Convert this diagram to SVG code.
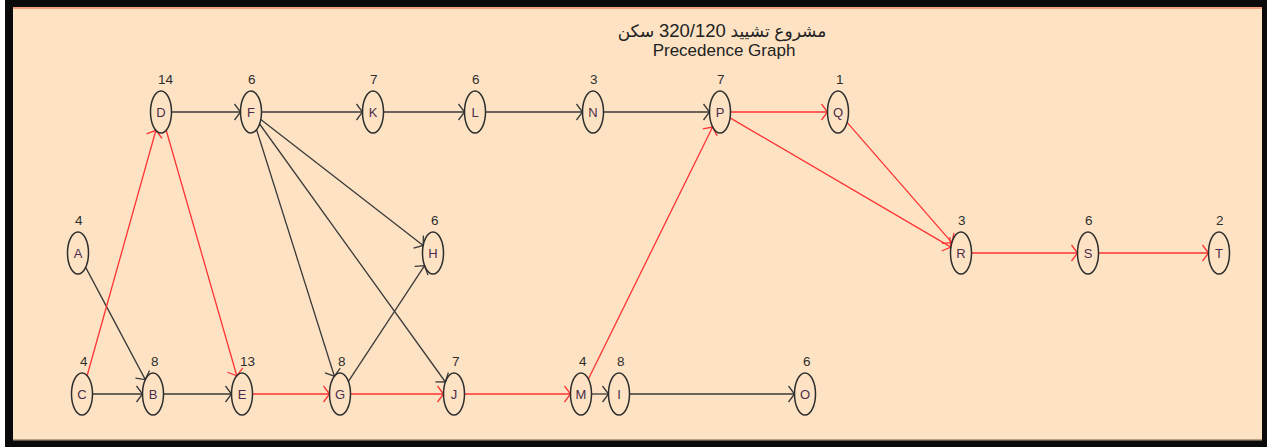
<svg xmlns="http://www.w3.org/2000/svg" width="1267" height="447" viewBox="0 0 1267 447">
  <style>
    .frame { fill: #0a0a0a; }
    .paper { fill: #FDE3C4; }
    .node ellipse { fill: none; stroke: #2e2e2e; stroke-width: 1.5; }
    .node .name { font-family: "Liberation Sans", Arial, sans-serif; font-size: 13px; fill: #4b2d4b; text-anchor: middle; }
    .node .dur { font-family: "Liberation Sans", Arial, sans-serif; font-size: 13.5px; fill: #2e2e2e; }
    .edge { fill: none; stroke-width: 1.3; }
    .blk { stroke: #3a3a3a; }
    .crit { stroke: #FF3333; }
    .title { font-family: "Liberation Sans", "DejaVu Sans", sans-serif; fill: #222; text-anchor: middle; }
  </style>
  <defs>
    <marker id="arrowBlk" markerUnits="userSpaceOnUse" orient="auto" markerWidth="20" markerHeight="20" refX="0" refY="0" viewBox="-10 -10 20 20" overflow="visible">
      <path d="M-6,-8 L0,0 L-6,8" fill="none" stroke="#3a3a3a" stroke-width="1.3"/>
    </marker>
    <marker id="arrowRed" markerUnits="userSpaceOnUse" orient="auto" markerWidth="20" markerHeight="20" refX="0" refY="0" viewBox="-10 -10 20 20" overflow="visible">
      <path d="M-6,-8 L0,0 L-6,8" fill="none" stroke="#FF3333" stroke-width="1.3"/>
    </marker>
  </defs>

  <!-- window frame and canvas -->
  <rect width="1267" height="447" fill="#ffffff"/>
  <rect class="frame" x="5" y="0" width="1262" height="447"/>
  <rect class="paper" x="13" y="8" width="1249" height="432"/>
  <rect x="13" y="7" width="1249" height="2" fill="#F2A27C"/>
  <rect x="13" y="439" width="1249" height="1.5" fill="#B9A283"/>

  <!-- title -->
  <text class="title" x="722" y="37" font-size="17" direction="rtl">مشروع تشييد <tspan font-size="18.5">320/120</tspan> سكن</text>
  <text class="title" x="724" y="56" font-size="17">Precedence Graph</text>

  <!-- connectors -->
  <g id="connectors">
    <g class="edge blk" marker-end="url(#arrowBlk)">
      <line x1="171.5" y1="112" x2="240.5" y2="112"/>
      <line x1="261.5" y1="112" x2="362.5" y2="112"/>
      <line x1="383.5" y1="112" x2="464.5" y2="112"/>
      <line x1="485.5" y1="112" x2="582.5" y2="112"/>
      <line x1="603.5" y1="112" x2="709.5" y2="112"/>
      <line x1="260.8" y1="119.6" x2="423.2" y2="245.4"/>
      <line x1="256.6" y1="129.8" x2="334.4" y2="376.2"/>
      <line x1="259.6" y1="124" x2="445.4" y2="382"/>
      <line x1="348.4" y1="381.3" x2="424.6" y2="265.7"/>
      <line x1="85.7" y1="267.4" x2="145.3" y2="379.6"/>
      <line x1="92.5" y1="394" x2="142.5" y2="394"/>
      <line x1="163.5" y1="394" x2="231.5" y2="394"/>
      <line x1="591.5" y1="394" x2="608.5" y2="394"/>
      <line x1="629.5" y1="394" x2="794.5" y2="394"/>
    </g>
    <g class="edge crit" marker-end="url(#arrowRed)">
      <line x1="87.1" y1="375.7" x2="155.9" y2="130.3"/>
      <line x1="166.2" y1="130.2" x2="236.8" y2="375.8"/>
      <line x1="252.5" y1="394" x2="329.5" y2="394"/>
      <line x1="350.5" y1="394" x2="443.5" y2="394"/>
      <line x1="464.5" y1="394" x2="570.5" y2="394"/>
      <line x1="588.4" y1="379" x2="712.6" y2="127"/>
      <line x1="730.5" y1="112" x2="827.5" y2="112"/>
      <line x1="730.1" y1="117.9" x2="950.9" y2="247.1"/>
      <line x1="847.1" y1="122.4" x2="951.9" y2="242.6"/>
      <line x1="971.5" y1="253" x2="1077.5" y2="253"/>
      <line x1="1098.5" y1="253" x2="1208.5" y2="253"/>
    </g>
  </g>

  <!-- activities: name inside, duration above -->
  <g id="node-D" class="node"><ellipse cx="161" cy="112" rx="10.5" ry="21"/><text class="name" x="161" y="117">D</text><text class="dur" x="158" y="84">14</text></g>
  <g id="node-F" class="node"><ellipse cx="251" cy="112" rx="10.5" ry="21"/><text class="name" x="251" y="117">F</text><text class="dur" x="248" y="84">6</text></g>
  <g id="node-K" class="node"><ellipse cx="373" cy="112" rx="10.5" ry="21"/><text class="name" x="373" y="117">K</text><text class="dur" x="370" y="84">7</text></g>
  <g id="node-L" class="node"><ellipse cx="475" cy="112" rx="10.5" ry="21"/><text class="name" x="475" y="117">L</text><text class="dur" x="472" y="84">6</text></g>
  <g id="node-N" class="node"><ellipse cx="593" cy="112" rx="10.5" ry="21"/><text class="name" x="593" y="117">N</text><text class="dur" x="590" y="84">3</text></g>
  <g id="node-P" class="node"><ellipse cx="720" cy="112" rx="10.5" ry="21"/><text class="name" x="720" y="117">P</text><text class="dur" x="717" y="84">7</text></g>
  <g id="node-Q" class="node"><ellipse cx="838" cy="112" rx="10.5" ry="21"/><text class="name" x="838" y="117">Q</text><text class="dur" x="836" y="84">1</text></g>

  <g id="node-A" class="node"><ellipse cx="78" cy="253" rx="10.5" ry="21"/><text class="name" x="78" y="258">A</text><text class="dur" x="75" y="225">4</text></g>
  <g id="node-H" class="node"><ellipse cx="433" cy="253" rx="10.5" ry="21"/><text class="name" x="433" y="258">H</text><text class="dur" x="431" y="225">6</text></g>
  <g id="node-R" class="node"><ellipse cx="961" cy="253" rx="10.5" ry="21"/><text class="name" x="961" y="258">R</text><text class="dur" x="958" y="225">3</text></g>
  <g id="node-S" class="node"><ellipse cx="1088" cy="253" rx="10.5" ry="21"/><text class="name" x="1088" y="258">S</text><text class="dur" x="1085" y="225">6</text></g>
  <g id="node-T" class="node"><ellipse cx="1219" cy="253" rx="10.5" ry="21"/><text class="name" x="1219" y="258">T</text><text class="dur" x="1216" y="225">2</text></g>

  <g id="node-C" class="node"><ellipse cx="82" cy="394" rx="10.5" ry="21"/><text class="name" x="82" y="399">C</text><text class="dur" x="80" y="366">4</text></g>
  <g id="node-B" class="node"><ellipse cx="153" cy="394" rx="10.5" ry="21"/><text class="name" x="153" y="399">B</text><text class="dur" x="151" y="366">8</text></g>
  <g id="node-E" class="node"><ellipse cx="242" cy="394" rx="10.5" ry="21"/><text class="name" x="242" y="399">E</text><text class="dur" x="240" y="366">13</text></g>
  <g id="node-G" class="node"><ellipse cx="340" cy="394" rx="10.5" ry="21"/><text class="name" x="340" y="399">G</text><text class="dur" x="338" y="366">8</text></g>
  <g id="node-J" class="node"><ellipse cx="454" cy="394" rx="10.5" ry="21"/><text class="name" x="454" y="399">J</text><text class="dur" x="452" y="366">7</text></g>
  <g id="node-M" class="node"><ellipse cx="581" cy="394" rx="10.5" ry="21"/><text class="name" x="581" y="399">M</text><text class="dur" x="579" y="366">4</text></g>
  <g id="node-I" class="node"><ellipse cx="619" cy="394" rx="10.5" ry="21"/><text class="name" x="619" y="399">I</text><text class="dur" x="617" y="366">8</text></g>
  <g id="node-O" class="node"><ellipse cx="805" cy="394" rx="10.5" ry="21"/><text class="name" x="805" y="399">O</text><text class="dur" x="803" y="366">6</text></g>
</svg>
